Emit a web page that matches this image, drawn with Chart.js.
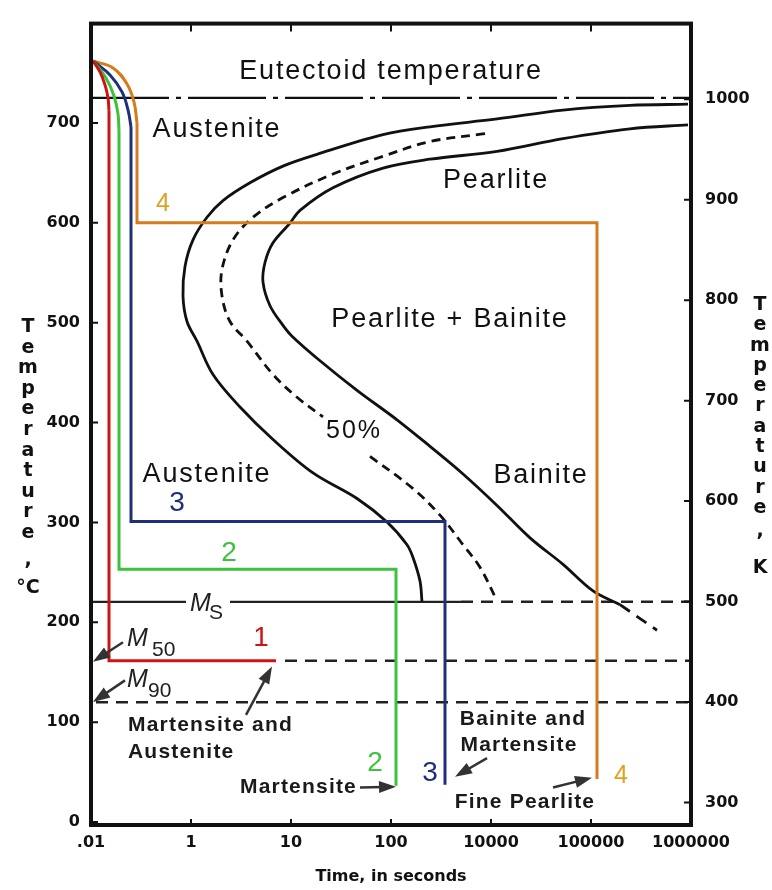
<!DOCTYPE html>
<html>
<head>
<meta charset="utf-8">
<title>TTT diagram</title>
<script src="https://cdn.jsdelivr.net/npm/chart.js@4.4.1/dist/chart.umd.min.js"></script>
<style>
  html, body { margin: 0; padding: 0; background: #fff; }
  #wrap { width: 772px; height: 890px; position: relative; }
</style>
</head>
<body>
<div id="wrap"><canvas id="chart"></canvas></div>
<script>
// the printed time labels sit at equal spacing, so the axis runs over their positions 0..6
const timeLabels = ['.01', '1', '10', '100', '10000', '100000', '1000000'];
const celsiusTicks = [0, 100, 200, 300, 400, 500, 600, 700];
const kelvinTicks = [300, 400, 500, 600, 700, 800, 900, 1000];

// [time position, temperature °C]
const startCurve = [
    [5.97, 718.7], [5.39, 717.5], [4.72, 712.8], [4.06, 703.9], [3.39, 696.1], [2.92, 688.2],
    [2.26, 668.5], [1.92, 656.7], [1.59, 640.0], [1.32, 622.2], [1.16, 605.5], [1.02, 582.9],
    [0.94, 556.3], [0.92, 526.7], [0.96, 501.1], [1.06, 481.4], [1.22, 448.0], [1.49, 415.5],
    [1.82, 383.0], [2.22, 349.5], [2.66, 323.9], [2.96, 300.3], [3.16, 277.6], [3.22, 264.8],
    [3.29, 241.2], [3.31, 220.5]
];
const halfCurve = [
    [3.94, 689.2], [3.39, 681.3], [2.92, 666.5], [2.42, 648.8], [1.92, 625.2], [1.62, 605.5],
    [1.42, 582.9], [1.31, 553.3], [1.31, 526.7], [1.39, 501.1], [1.56, 481.4], [1.82, 448.0],
    [2.06, 425.3], [2.32, 405.6], [2.55, null], [2.79, 366.2], [3.22, 333.8], [3.49, 307.2],
    [3.72, 277.6], [3.89, 255.0], [4.06, 221.5]
];
const finishCurve = [
    [5.97, 698.0], [5.39, 694.1], [4.72, 684.3], [4.06, 671.5], [3.39, 663.6], [2.92, 654.7],
    [2.42, 635.0], [2.09, 612.4], [1.99, 599.6], [1.82, 579.9], [1.74, 560.2], [1.72, 540.5],
    [1.79, 516.9], [1.92, 497.2], [2.01, 486.4], [2.29, 461.8], [2.66, 432.2], [3.06, 402.7],
    [3.39, 376.1], [3.72, 348.5], [4.06, 317.0], [4.39, 284.5], [4.72, 258.0], [5.02, 231.4],
    [5.29, 217.6]
];
const finishTail = [[5.29, 217.6], [5.66, 192.0]];

const eutectoid = [[0, 725], [6, 725]];
const msSolid = [[0, 220.5], [3.7, 220.5]];
const msDashed = [[3.7, 220.5], [6, 220.5]];
const m50Line = [[1.94, 161.5], [6, 161.5]];
const m90Line = [[0.05, 120], [6, 120]];

// cooling paths: rounded start, then the straight quench / hold / cool legs
const path1Head = [[0.02, 762], [0.09, 751], [0.14, 738], [0.17, 725], [0.18, 712]];
const path1 = [[0.18, 712], [0.18, 161.5], [1.85, 161.5]];
const path2Head = [[0.02, 762], [0.15, 745], [0.23, 727], [0.27, 709], [0.28, 692]];
const path2 = [[0.28, 692], [0.28, 253], [3.05, 253], [3.05, 36.4]];
const path3Head = [[0.02, 762], [0.19, 748], [0.31, 731], [0.37, 713], [0.40, 696]];
const path3 = [[0.40, 696], [0.40, 301], [3.54, 301], [3.54, 37.4]];
const path4Head = [[0.02, 762], [0.22, 755], [0.36, 739], [0.43, 721], [0.46, 700]];
const path4 = [[0.46, 700], [0.46, 600], [5.06, 600], [5.06, 43]];

const regionText = [
    ['Eutectoid temperature', 3.00, 751],
    ['Austenite', 1.26, 693],
    ['Pearlite', 4.05, 642],
    ['Pearlite + Bainite', 3.59, 503],
    ['Austenite', 1.16, 347.5],
    ['Bainite', 4.50, 346.5]
];
const pathNumbers = [
    ['1', 1.70, 184], ['2', 1.38, 269], ['2', 2.84, 59],
    ['3', 0.86, 319], ['3', 3.39, 49], ['4', 0.72, 619], ['4', 5.30, 46]
];
const noteText = [
    ['Martensite and', 0.37, 96.5, 'left'],
    ['Austenite', 0.37, 70, 'left'],
    ['Martensite', 2.66, 34.5, 'right'],
    ['Bainite and', 4.32, 103.4, 'center'],
    ['Martensite', 4.28, 77, 'center'],
    ['Fine Pearlite', 4.34, 19.7, 'center']
];
const arrows = [
    [[0.32, 180], [0.02, 160.5]],
    [[0.34, 141.8], [0.02, 120.1]],
    [[1.55, 107.3], [1.81, 155.6]],
    [[2.69, 34.5], [3.05, 35.4]],
    [[3.96, 64], [3.64, 45.3]],
    [[4.62, 34.5], [5.01, 44.3]]
];
const martensiteMarks = [['S', 0.99, 211.7, 19, 8], ['50', 0.36, 176.2, 25, 10], ['90', 0.36, 134.9, 21, 10]];

const numberColors = { '1': '#cc1414', '2': '#3cc23c', '3': '#1f2f7a', '4': '#e0a020' };

function pts(arr) {
    return arr.map(p => ({ x: p[0], y: p[1] }));
}

function line(data, color, width, dash, tension, order) {
    return {
        data: pts(data), borderColor: color, borderWidth: width, borderDash: dash || [],
        tension: tension || 0, pointRadius: 0, fill: false, spanGaps: false, order: order
    };
}

function put(ctx, text, x, y, font, color, align, spacing) {
    ctx.font = font;
    ctx.fillStyle = color;
    ctx.textAlign = align || 'center';
    ctx.textBaseline = 'middle';
    ctx.letterSpacing = (spacing || 0) + 'px';
    ctx.fillText(text, x, y);
}

function arrow(ctx, x1, y1, x2, y2) {
    const ang = Math.atan2(y2 - y1, x2 - x1);
    const len = 17, half = 6;
    const c = Math.cos(ang), s = Math.sin(ang);
    ctx.strokeStyle = '#333';
    ctx.fillStyle = '#333';
    ctx.lineWidth = 2.5;
    ctx.setLineDash([]);
    ctx.beginPath();
    ctx.moveTo(x1, y1);
    ctx.lineTo(x2 - len * 0.7 * c, y2 - len * 0.7 * s);
    ctx.stroke();
    ctx.beginPath();
    ctx.moveTo(x2, y2);
    ctx.lineTo(x2 - len * c + half * s, y2 - len * s - half * c);
    ctx.lineTo(x2 - len * c - half * s, y2 - len * s + half * c);
    ctx.closePath();
    ctx.fill();
}

const annotate = {
    id: 'annotate',
    afterDatasetsDraw(chart) {
        const { ctx, chartArea: a, scales } = chart;
        const x = scales.x, y = scales.y, k = scales.yK;
        const px = v => x.getPixelForValue(v);
        const py = v => y.getPixelForValue(v);
        ctx.save();

        // inside tick marks
        ctx.strokeStyle = '#111';
        ctx.lineWidth = 2;
        ctx.beginPath();
        celsiusTicks.forEach(v => { ctx.moveTo(a.left, py(v)); ctx.lineTo(a.left + 7, py(v)); });
        kelvinTicks.forEach(v => { const yy = k.getPixelForValue(v); ctx.moveTo(a.right - 7, yy); ctx.lineTo(a.right, yy); });
        for (let i = 1; i < timeLabels.length - 1; i++) {
            ctx.moveTo(px(i), a.top); ctx.lineTo(px(i), a.top + 8);
            ctx.moveTo(px(i), a.bottom); ctx.lineTo(px(i), a.bottom - 6);
        }
        ctx.stroke();

        // frame
        ctx.lineWidth = 4;
        ctx.strokeRect(a.left, a.top, a.right - a.left, a.bottom - a.top);

        regionText.forEach(([t, tx, ty]) => put(ctx, t, px(tx), py(ty), '27px "Liberation Sans", Arial, sans-serif', '#111', 'center', 1.8));
        put(ctx, '50%', px(2.63), py(391), '25px "Liberation Sans", Arial, sans-serif', '#111', 'center', 2);
        pathNumbers.forEach(([t, tx, ty]) => put(ctx, t, px(tx), py(ty),
            (t === '4' ? '25px' : '28px') + ' "Liberation Sans", Arial, sans-serif', numberColors[t], 'center', 0));
        noteText.forEach(([t, tx, ty, al]) => put(ctx, t, px(tx), py(ty), 'bold 21px "Liberation Sans", Arial, sans-serif', '#1a1a1a', al, 1.2));

        // Ms, M50, M90 markers
        ctx.fillStyle = '#fff';
        ctx.fillRect(px(0.95), py(235), 44, 26);
        martensiteMarks.forEach(([sub, tx, ty, dx, dy]) => {
            ctx.textBaseline = 'alphabetic';
            ctx.textAlign = 'left';
            ctx.letterSpacing = '0px';
            ctx.fillStyle = '#222';
            ctx.font = 'italic 25px "Liberation Sans", Arial, sans-serif';
            ctx.fillText('M', px(tx), py(ty));
            ctx.font = '21px "Liberation Sans", Arial, sans-serif';
            ctx.fillText(sub, px(tx) + dx, py(ty) + dy);
        });

        arrows.forEach(([f, t]) => arrow(ctx, px(f[0]), py(f[1]), px(t[0]), py(t[1])));

        // stacked axis titles
        const leftTitle = ['T', 'e', 'm', 'p', 'e', 'r', 'a', 't', 'u', 'r', 'e'];
        const titleFont = 'bold 19px "DejaVu Sans", sans-serif';
        leftTitle.forEach((ch, i) => put(ctx, ch, 28, 327 + i * 20.6, titleFont, '#111', 'center', 0));
        put(ctx, ',', 28, 560, titleFont, '#111', 'center', 0);
        put(ctx, '°C', 28, 588, titleFont, '#111', 'center', 0);
        leftTitle.forEach((ch, i) => put(ctx, ch, 760, 305 + i * 20.3, titleFont, '#111', 'center', 0));
        put(ctx, ',', 760, 531, titleFont, '#111', 'center', 0);
        put(ctx, 'K', 760, 568, titleFont, '#111', 'center', 0);

        ctx.restore();
    }
};

const tickFont = { family: '"DejaVu Sans", sans-serif', size: 16, weight: 'bold' };

new Chart(document.getElementById('chart'), {
    type: 'line',
    data: {
        datasets: [
            line(startCurve, '#111', 2.8, [], 0.35, 3),
            line(halfCurve, '#111', 2.8, [9, 6], 0.35, 3),
            line(finishCurve, '#111', 2.8, [], 0.35, 3),
            line(finishTail, '#111', 2.8, [12, 8], 0, 3),
            line(eutectoid, '#111', 2.2, [78, 7, 5, 7], 0, 3),
            line(msSolid, '#222', 2.2, [], 0, 3),
            line(msDashed, '#222', 2.5, [12, 8], 0, 3),
            line(m50Line, '#222', 2.5, [12, 8], 0, 3),
            line(m90Line, '#222', 2.5, [12, 8], 0, 3),
            line(path1Head, '#cc1414', 3, [], 0.4, 1),
            line(path1, '#cc1414', 3, [], 0, 1),
            line(path2Head, '#3cc23c', 3, [], 0.4, 1),
            line(path2, '#3cc23c', 3, [], 0, 1),
            line(path3Head, '#1f2f7a', 3, [], 0.4, 1),
            line(path3, '#1f2f7a', 3, [], 0, 1),
            line(path4Head, '#d67a1e', 3, [], 0.4, 1),
            line(path4, '#d67a1e', 3, [], 0, 1)
        ]
    },
    options: {
        responsive: true,
        maintainAspectRatio: false,
        animation: false,
        layout: { autoPadding: false, padding: { top: 10, left: 0, right: 0, bottom: 0 } },
        plugins: { legend: { display: false }, tooltip: { enabled: false } },
        scales: {
            x: {
                type: 'linear', min: 0, max: 6,
                grid: { display: false, drawTicks: false },
                border: { display: false },
                afterBuildTicks: s => { s.ticks = timeLabels.map((_, i) => ({ value: i })); },
                ticks: { callback: v => timeLabels[v], font: tickFont, color: '#111', padding: 8, maxRotation: 0, autoSkip: false },
                title: { display: true, text: 'Time, in seconds', color: '#111',
                    font: { family: '"DejaVu Sans", sans-serif', size: 16, weight: 'bold' }, padding: { top: 0, bottom: 4 } },
                afterFit: s => { s.height = 65; }
            },
            y: {
                position: 'left', min: -3, max: 799.4,
                grid: { display: false, drawTicks: false },
                border: { display: false },
                afterBuildTicks: s => { s.ticks = celsiusTicks.map(v => ({ value: v })); },
                ticks: { callback: v => String(v), font: tickFont, color: '#111', padding: 11 },
                afterFit: s => { s.width = 91; }
            },
            yK: {
                axis: 'y', position: 'right', min: 277.5, max: 1075.4,
                grid: { display: false, drawTicks: false },
                border: { display: false },
                afterBuildTicks: s => { s.ticks = kelvinTicks.map(v => ({ value: v })); },
                ticks: { callback: v => String(v), font: tickFont, color: '#111', padding: 14 },
                afterFit: s => { s.width = 81; }
            }
        }
    },
    plugins: [annotate]
});
</script>
</body>
</html>
